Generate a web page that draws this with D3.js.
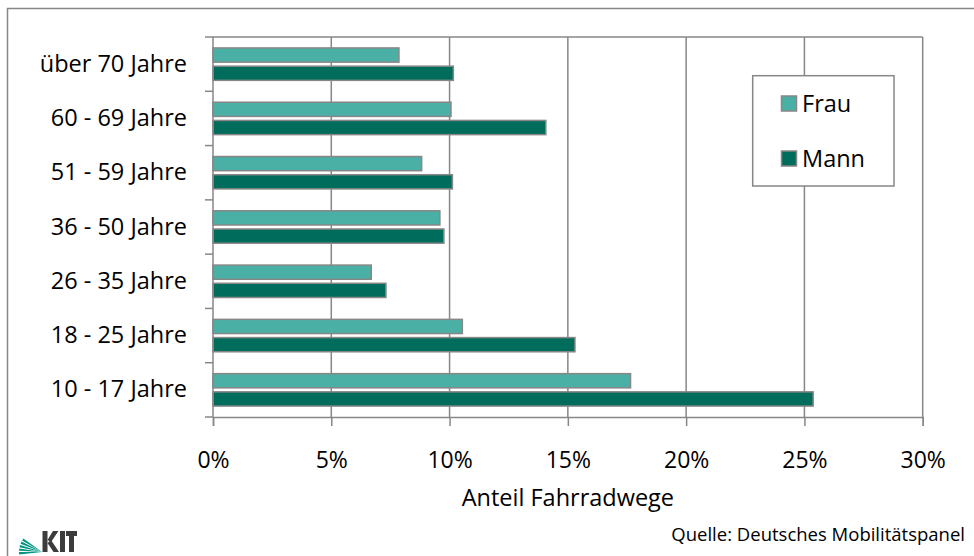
<!DOCTYPE html>
<html>
<head>
<meta charset="utf-8">
<script src="https://cdn.jsdelivr.net/npm/d3@7"></script>
<style>
  html, body { margin: 0; padding: 0; background: #fff; }
  svg { display: block; }
  text { font-family: "Open Sans", "Liberation Sans", sans-serif; fill: #000; }
</style>
</head>
<body>
<svg id="chart" width="974" height="556"></svg>
<script>
// ---- data ----
const categories = ["über 70 Jahre", "60 - 69 Jahre", "51 - 59 Jahre", "36 - 50 Jahre", "26 - 35 Jahre", "18 - 25 Jahre", "10 - 17 Jahre"];
const seriesNames = ["Frau", "Mann"];
const frau = [7.86, 10.06, 8.82, 9.59, 6.69, 10.54, 17.65];
const mann = [10.16, 14.07, 10.12, 9.76, 7.31, 15.30, 25.37];
const xTicks = [0, 5, 10, 15, 20, 25, 30];
const xTitle = "Anteil Fahrradwege";
const sourceText = "Quelle: Deutsches Mobilitätspanel";

// ---- styles ----
const colors = { Frau: "#4AB0A6", Mann: "#006D5C" };
const lineColor = "#878787";

const svg = d3.select("#chart");

// outer frame (clipped at right/bottom like the reference)
svg.append("rect")
  .attr("x", 7.5).attr("y", 8.5)
  .attr("width", 990).attr("height", 570)
  .attr("fill", "none").attr("stroke", lineColor).attr("stroke-width", 1.5);

const plot = { left: 213, right: 922.7, top: 37, bottom: 417 };

const x = d3.scaleLinear().domain([0, 30]).range([plot.left, plot.right]);
const y = d3.scaleBand().domain(categories).range([plot.top, plot.bottom])
  .paddingInner(0.403).paddingOuter(0.2015);
const yInner = d3.scaleBand().domain(seriesNames).range([0, y.bandwidth()])
  .paddingInner(0.22).paddingOuter(0);

// gridlines
svg.append("g").selectAll("line").data(xTicks.slice(1)).join("line")
  .attr("x1", d => x(d)).attr("x2", d => x(d))
  .attr("y1", plot.top).attr("y2", plot.bottom)
  .attr("stroke", lineColor).attr("stroke-width", 1.5);

// plot top border
svg.append("line")
  .attr("x1", plot.left).attr("x2", plot.right)
  .attr("y1", plot.top).attr("y2", plot.top)
  .attr("stroke", lineColor).attr("stroke-width", 1.5);

// bars
const rows = categories.map((c, i) => ({ cat: c, Frau: frau[i], Mann: mann[i] }));
const groups = svg.append("g").selectAll("g").data(rows).join("g")
  .attr("transform", d => `translate(0,${y(d.cat)})`);
groups.selectAll("rect").data(d => seriesNames.map(s => ({ s, v: d[s] }))).join("rect")
  .attr("x", x(0))
  .attr("y", d => yInner(d.s))
  .attr("width", d => x(d.v) - x(0))
  .attr("height", yInner.bandwidth())
  .attr("fill", d => colors[d.s])
  .attr("stroke", lineColor).attr("stroke-width", 1.5);

// x axis
const xAxis = svg.append("g").attr("transform", `translate(0,${plot.bottom})`)
  .call(d3.axisBottom(x).tickValues(xTicks).tickSize(9).tickPadding(25.5).tickFormat(d => d + "%"));
xAxis.select(".domain").attr("stroke", lineColor).attr("stroke-width", 1.5);
xAxis.selectAll(".tick line").attr("stroke", lineColor).attr("stroke-width", 1.5);
xAxis.selectAll(".tick text").attr("font-family", "Open Sans").attr("font-size", 23).attr("fill", "#000");

// y axis
const yAxis = svg.append("g").attr("transform", `translate(${plot.left},0)`)
  .call(d3.axisLeft(y).tickSize(0).tickPadding(26));
yAxis.select(".domain").remove();
yAxis.selectAll(".tick text").attr("font-family", "Open Sans").attr("font-size", 23.5).attr("fill", "#000");
svg.append("line")
  .attr("x1", plot.left).attr("x2", plot.left)
  .attr("y1", plot.top).attr("y2", plot.bottom)
  .attr("stroke", lineColor).attr("stroke-width", 1.5);
svg.append("g").selectAll("line").data(d3.range(categories.length + 1)).join("line")
  .attr("x1", plot.left - 8).attr("x2", plot.left)
  .attr("y1", i => plot.top + i * y.step()).attr("y2", i => plot.top + i * y.step())
  .attr("stroke", lineColor).attr("stroke-width", 1.5);

// axis title
svg.append("text")
  .attr("x", (plot.left + plot.right) / 2).attr("y", 506)
  .attr("text-anchor", "middle").attr("font-size", 23.5)
  .text(xTitle);

// legend
const lg = svg.append("g");
lg.append("rect").attr("x", 752.7).attr("y", 75.7).attr("width", 141.3).attr("height", 110.3)
  .attr("fill", "#fff").attr("stroke", lineColor).attr("stroke-width", 1.5);
seriesNames.forEach((s, i) => {
  const yy = 96 + i * 55;
  lg.append("rect").attr("x", 781.5).attr("y", yy).attr("width", 15).attr("height", 15)
    .attr("fill", colors[s]).attr("stroke", lineColor).attr("stroke-width", 1.5);
  lg.append("text").attr("x", 802).attr("y", yy + 15.5).attr("font-size", 23.5).text(s);
});

// source
svg.append("text")
  .attr("x", 965).attr("y", 541).attr("text-anchor", "end").attr("font-size", 18.5)
  .text(sourceText);

// KIT logo
const logo = svg.append("g");
const apex = [42, 552];
const fanR = 23;
const angles = [180, 171, 162, 153, 144, 135];
for (let i = 0; i < 5; i++) {
  const a0 = angles[i] * Math.PI / 180, a1 = (angles[i] + 6) * Math.PI / 180;
  const p0 = [apex[0] + fanR * Math.cos(a0), apex[1] - fanR * Math.sin(a0)];
  const p1 = [apex[0] + fanR * Math.cos(a1), apex[1] - fanR * Math.sin(a1)];
  logo.append("path")
    .attr("d", `M${apex[0]},${apex[1]} L${p0[0]},${p0[1]} L${p1[0]},${p1[1]} Z`)
    .attr("fill", "#009682");
}
const dark = "#3c3c3c";
logo.append("rect").attr("x", 42.5).attr("y", 531).attr("width", 5).attr("height", 21).attr("fill", dark);
logo.append("path").attr("d", "M47.5,540 L53,531 L58.5,531 L51,542 Z").attr("fill", dark);
logo.append("path").attr("d", "M47.5,543 L51,540 L59,552 L53.5,552 Z").attr("fill", dark);
logo.append("rect").attr("x", 60).attr("y", 531).attr("width", 5).attr("height", 21).attr("fill", dark);
logo.append("rect").attr("x", 66).attr("y", 531).attr("width", 11).attr("height", 5).attr("fill", dark);
logo.append("rect").attr("x", 69).attr("y", 531).attr("width", 5).attr("height", 21).attr("fill", dark);
</script>
</body>
</html>
